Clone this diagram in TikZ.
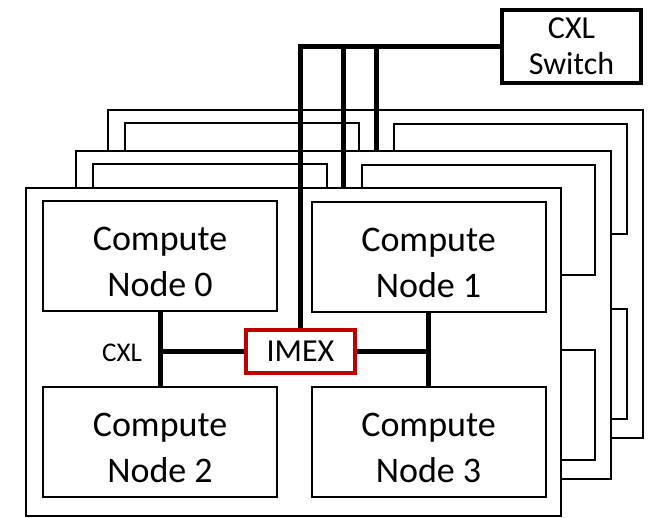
\documentclass[tikz,border=0pt]{standalone}
\usepackage{fontspec}
\setmainfont{Carlito}
\definecolor{imexred}{RGB}{192,0,0}
\tikzset{
  chassis/.style={draw, fill=white, line width=2.2pt},
  nodebox/.style={draw, fill=white, line width=2pt},
  cnode/.style={nodebox, minimum width=234pt, minimum height=110pt, inner sep=0pt,
    align=center, font=\fontsize{36}{46}\selectfont, text height=81pt, text depth=0pt},
  link/.style={line width=5pt},
  imexbox/.style={draw=imexred, fill=white, line width=4pt, minimum width=109pt,
    minimum height=43pt, inner sep=0pt, font=\fontsize{32}{38}\selectfont},
  switchbox/.style={draw, fill=white, line width=4.5pt, minimum width=139pt,
    minimum height=73pt, inner sep=0pt, align=center, font=\fontsize{32}{36}\selectfont},
}

\begin{document}
\begin{tikzpicture}[x=1pt,y=-1pt]
  \useasboundingbox (0,0) rectangle (652,517);

  % the two chassis behind, back one first
  \foreach \dx/\dy in {82/-78, 50/-37} {
    \begin{scope}[shift={(\dx,\dy)}]
      \draw[chassis] (26,188) rectangle (561,516);
      \draw[nodebox] (43,201) rectangle (277,311);
      \draw[nodebox] (312,202) rectangle (545,312);
      \draw[nodebox] (43,387) rectangle (277,497);
      \draw[nodebox] (312,387) rectangle (545,497);
    \end{scope}
  }

  % front chassis
  \draw[chassis] (26,188) rectangle (561,516);
  \node[cnode] (n0) at (160,256) {Compute\\Node 0};
  \node[cnode] (n1) at (428.5,257) {Compute\\Node 1};
  \node[cnode] (n2) at (160,442) {Compute\\Node 2};
  \node[cnode] (n3) at (428.5,442) {Compute\\Node 3};
  \node[imexbox] (imex) at (300.5,351) {IMEX};
  \node[font=\fontsize{27}{32}\selectfont] (cxl) at (122,353) {CXL};

  % CXL links inside the chassis
  \draw[link] (n0.south) -- (n2.north);
  \draw[link] (n1.south) -- (n3.north);
  \draw[link] (imex.west) -- (imex.west -| n0.south);
  \draw[link] (imex.east) -- (imex.east -| n1.south);

  % switch and uplinks
  \node[switchbox] (sw) at (571.5,46.5) {CXL\\Switch};
  \coordinate (up1) at (343,188);
  \coordinate (up2) at (376,150);
  \draw[link] (imex.north) |- (sw.west);
  \draw[link] (up1) -- (up1 |- sw.west);
  \draw[link] (up2) -- (up2 |- sw.west);
\end{tikzpicture}
\end{document}
